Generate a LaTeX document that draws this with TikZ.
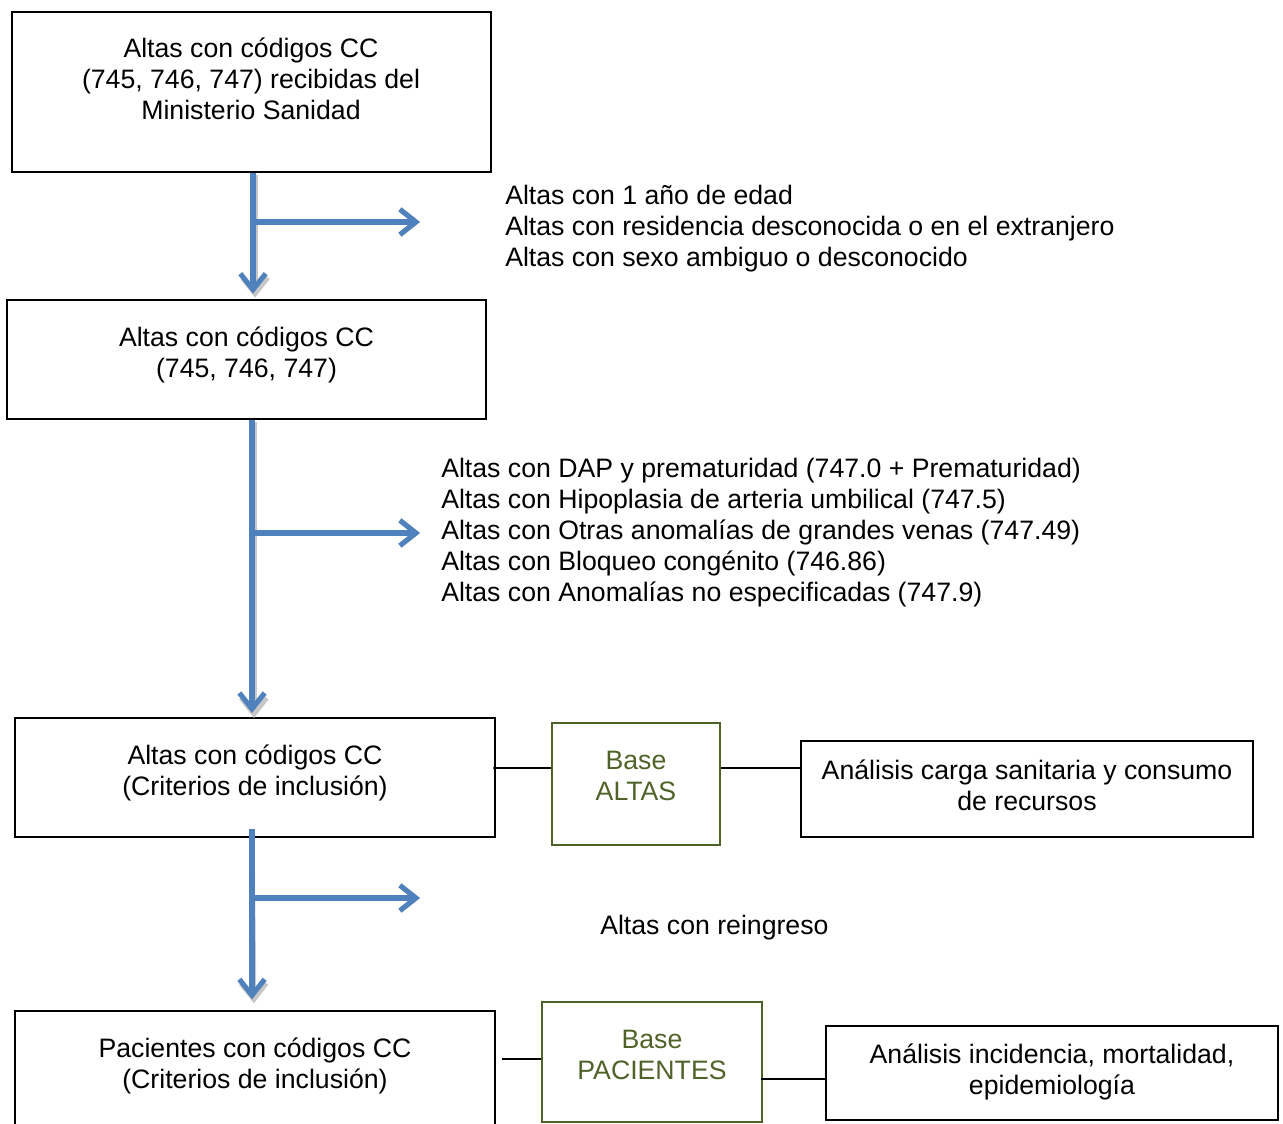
\documentclass[tikz,border=0pt]{standalone}
\usepackage{fontspec}
\setmainfont{Liberation Sans}
\usetikzlibrary{arrows.meta}
\definecolor{arrowblue}{HTML}{4F81BD}
\definecolor{olivegreen}{HTML}{4F6228}
\begin{document}
\begin{tikzpicture}[x=0.75pt,y=-0.75pt,
  every node/.style={font=\fontsize{20}{23.25}\selectfont, inner sep=0pt},
  box/.style={draw=black, line width=1.5pt, rectangle},
  gbox/.style={draw=olivegreen, line width=1.5pt, rectangle, text=olivegreen},
  txt/.style={align=center},
  lst/.style={align=left, anchor=west},
  flow/.style={draw=arrowblue, line width=3.8pt, -{Straight Barb[length=12pt,width=19pt]}},
  flowshadow/.style={draw=black!22, line width=3.8pt, -{Straight Barb[length=12pt,width=19pt]}},
  conn/.style={draw=black, line width=1.4pt}]
\useasboundingbox (0,0) rectangle (1283,1124);

% boxes
\node[box, minimum width=359.25pt, minimum height=120pt] (box1) at (251.5,92) {};
\node[box, minimum width=359.25pt, minimum height=89.25pt] (box2) at (246.5,359.5) {};
\node[box, minimum width=360pt, minimum height=89.25pt] (box3) at (255,777.5) {};
\node[box, minimum width=360pt, minimum height=96.75pt] (box4) at (255,1075.5) {};
\node[gbox, minimum width=126pt, minimum height=91.5pt] (galtas) at (636,784) {};
\node[box, minimum width=339pt, minimum height=72pt] (right1) at (1027,789) {};
\node[gbox, minimum width=165pt, minimum height=90pt] (gpac) at (652,1062) {};
\node[box, minimum width=339pt, minimum height=70.5pt] (right2) at (1052,1073) {};

% box texts
\node[txt] (t1) at (251,79) {Altas con códigos CC\\(745, 746, 747) recibidas del\\Ministerio Sanidad};
\node[txt] (t2) at (246.5,354.5) {Altas con códigos CC\\(745, 746, 747)};
\node[txt] (t3) at (255,772.5) {Altas con códigos CC\\(Criterios de inclusión)};
\node[txt] (t4) at (255,1065.5) {Pacientes con códigos CC\\(Criterios de inclusión)};
\node[txt, text=olivegreen] (tg1) at (636,776) {Base\\ALTAS};
\node[txt] (tr1) at (1027,785.5) {Análisis carga sanitaria y consumo\\de recursos};
\node[txt, text=olivegreen] (tg2) at (652,1054.5) {Base\\PACIENTES};
\node[txt] (tr2) at (1052,1071.5) {Análisis incidencia, mortalidad,\\epidemiología};

% exclusion lists
\node[lst] (ex1) at (505,228.5) {Altas con 1 año de edad\\Altas con residencia desconocida o en el extranjero\\Altas con sexo ambiguo o desconocido};
\node[lst] (ex2) at (441,533) {Altas con DAP y prematuridad (747.0 + Prematuridad)\\Altas con Hipoplasia de arteria umbilical (747.5)\\Altas con Otras anomalías de grandes venas (747.49)\\Altas con Bloqueo congénito (746.86)\\Altas con Anomalías no especificadas (747.9)};
\node[lst] (ex3) at (600,928) {Altas con reingreso};

% branch coordinates
\coordinate (b1) at (253,222);
\coordinate (e1) at (420,222);
\coordinate (b2) at (252,533);
\coordinate (e2) at (420,533);
\coordinate (b3) at (252,898);
\coordinate (e3) at (420,898);
\coordinate (s3) at (252,829);

% shadows
\begin{scope}[shift={(2,3)}]
\draw[flowshadow, shorten >=4pt] (253,172) -- (253,300);
\draw[flowshadow] (b1) -- (e1);
\draw[flowshadow, shorten >=3pt] (252,419) -- (252,719);
\draw[flowshadow] (b2) -- (e2);
\draw[flowshadow, shorten >=8pt] (s3) -- (252,1011);
\draw[flowshadow] (b3) -- (e3);
\end{scope}

% blue arrows
\draw[flow, shorten >=4pt] (box1.south -| b1) -- (box2.north -| b1);
\draw[flow] (b1) -- (e1);
\draw[flow, shorten >=3pt] (box2.south -| b2) -- (box3.north -| b2);
\draw[flow] (b2) -- (e2);
\draw[flow, shorten >=8pt] (s3) -- (box4.north -| s3);
\draw[flow] (b3) -- (e3);

% connectors
\draw[conn] ([xshift=-2pt,yshift=7.1pt]box3.east) -- ([yshift=12pt]galtas.west);
\draw[conn] ([yshift=12pt]galtas.east) -- ([yshift=15.75pt]right1.west);
\draw[conn] ([xshift=4.5pt,yshift=12.4pt]box4.east) -- ([yshift=2.25pt]gpac.west);
\draw[conn] ([xshift=-1.5pt,yshift=-12.75pt]gpac.east) -- ([yshift=-4.5pt]right2.west);
\end{tikzpicture}
\end{document}
